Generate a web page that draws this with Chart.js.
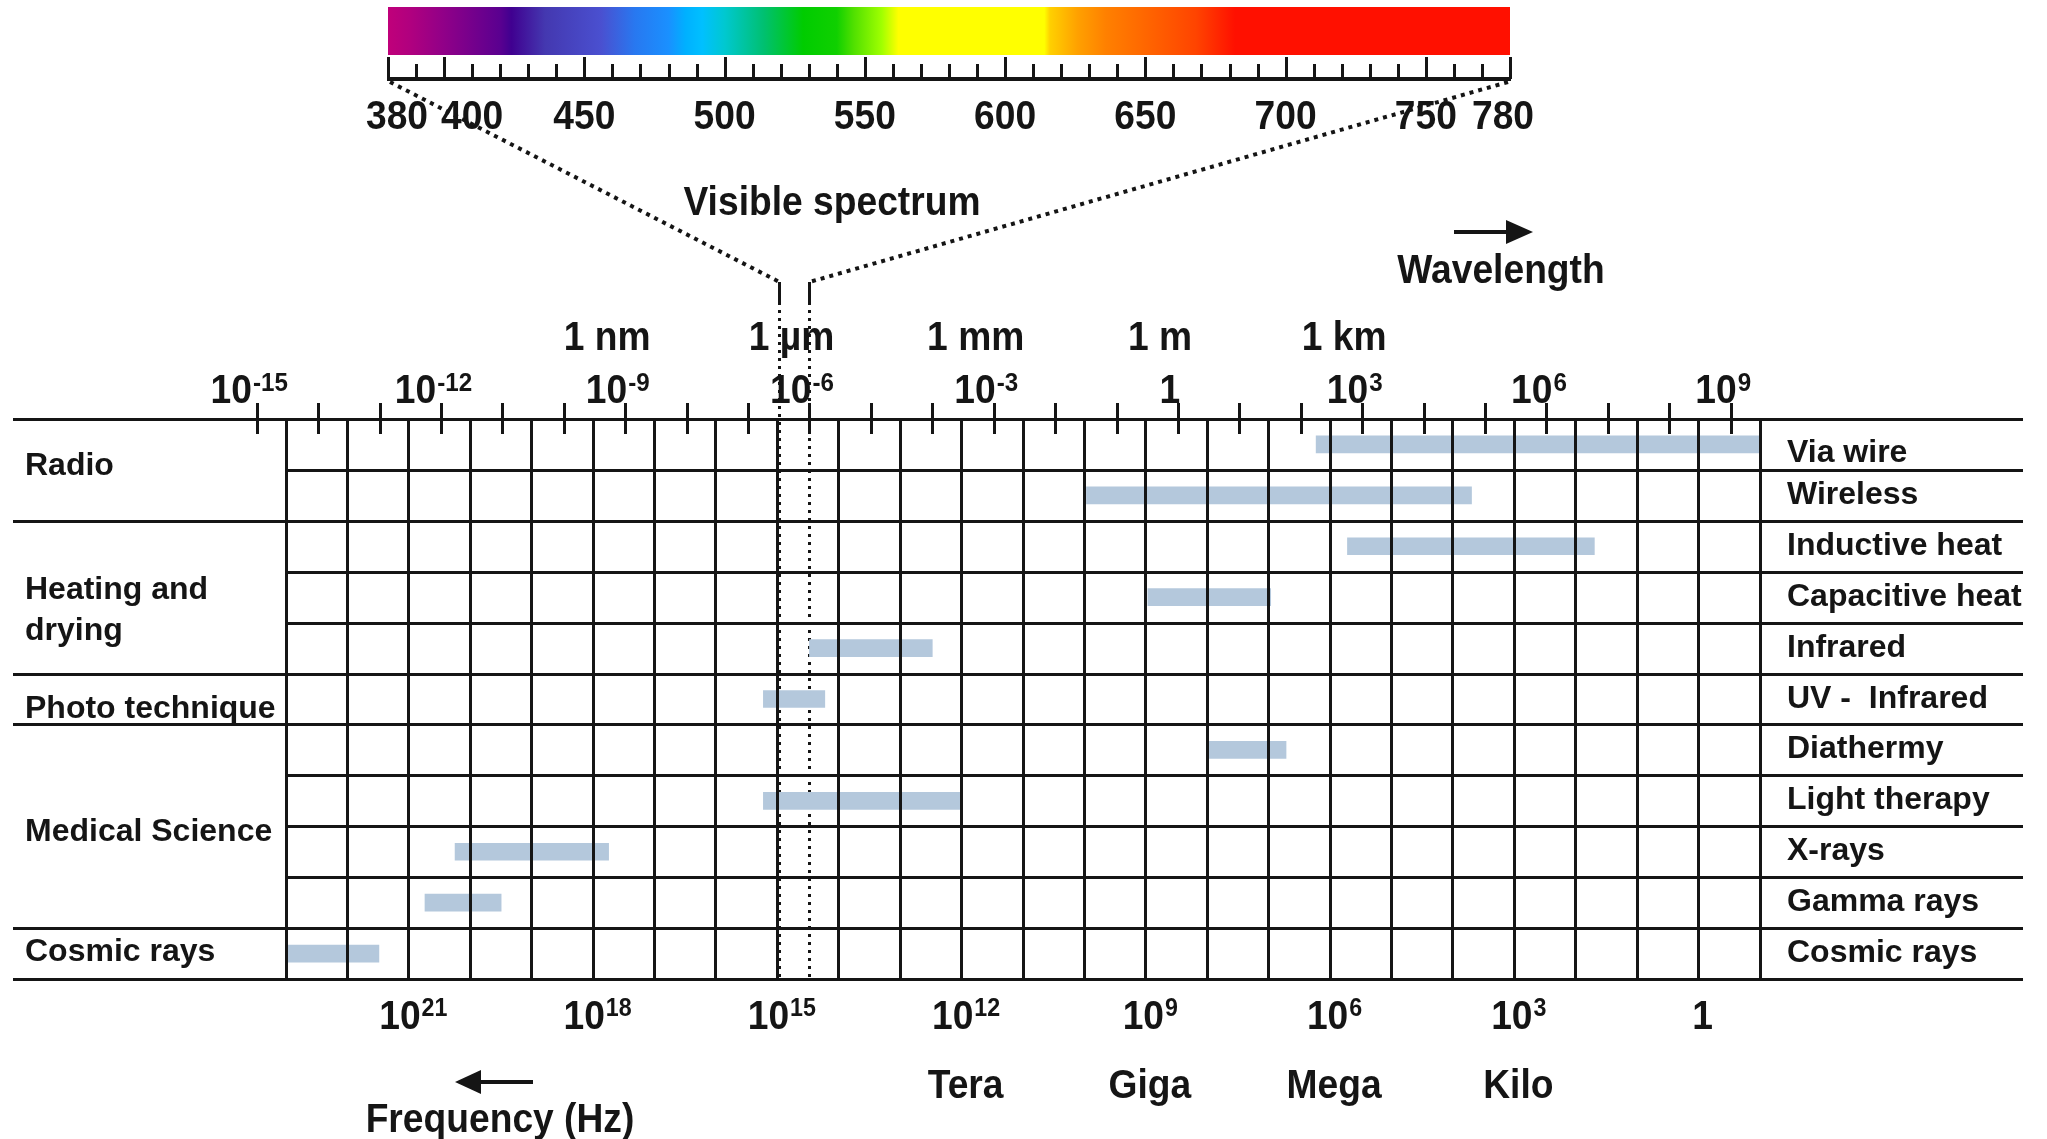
<!DOCTYPE html>
<html lang="en">
<head>
<meta charset="UTF-8">
<title>Electromagnetic spectrum - applications</title>
<style>
    html, body { margin: 0; padding: 0; background: #fff; }
    canvas { display: block; }
</style>
<script src="https://cdn.jsdelivr.net/npm/chart.js@4.4.1/dist/chart.umd.min.js"></script>
</head>
<body>
<canvas id="spectrumChart" width="2047" height="1139"></canvas>
<script>
// x values are log10 of the wavelength in metres
const rowLabels = ['Via wire', 'Wireless', 'Inductive heat', 'Capacitive heat', 'Infrared',
    'UV -  Infrared', 'Diathermy', 'Light therapy', 'X-rays', 'Gamma rays', 'Cosmic rays'];
const rangeStart = [2.25, -1.49, 2.76, -0.49, -6.0, -6.75, 0.51, -6.75, -11.77, -12.26, -14.52];
const rangeEnd   = [9.48, 4.78, 6.78, 1.51, -4.0, -5.75, 1.76, -3.52, -9.27, -11.02, -13.01];

const groupLabels = [['Radio'], ['Heating and', 'drying'], ['Photo technique'], ['Medical Science'], ['Cosmic rays']];
const groupFirst = [0, 2, 5, 6, 10];
const groupLast  = [1, 4, 5, 9, 10];

const wavelengthExps = [-15, -12, -9, -6, -3, 0, 3, 6, 9];
const unitLabels = ['1 nm', '1 \u00b5m', '1 mm', '1 m', '1 km'];
const unitExps = [-9, -6, -3, 0, 3];
const freqExps = [21, 18, 15, 12, 9, 6, 3, 0];
const prefixLabels = ['Tera', 'Giga', 'Mega', 'Kilo'];
const prefixExps = [12, 9, 6, 3];
const spectrumTicks = [380, 400, 450, 500, 550, 600, 650, 700, 750, 780];
const visibleEdges = [-6.5, -6.0];

const LOG_C = Math.log10(3e8);   // f = c / lambda
const INK = '#151515';
const FONT = '"Liberation Sans", Arial, Helvetica, sans-serif';
const SQ = 0.93;                  // condensed look of the axis lettering
const SPEC_L = 388, SPEC_R = 1510;

function sx(nm) { return SPEC_L + (nm - 380) / 400 * (SPEC_R - SPEC_L); }

function text(ctx, str, x, y, size, align, sq) {
    ctx.save();
    ctx.font = 'bold ' + size + 'px ' + FONT;
    ctx.fillStyle = INK;
    ctx.textAlign = align;
    ctx.textBaseline = 'alphabetic';
    ctx.translate(x, y);
    ctx.scale(sq, 1);
    ctx.fillText(str, 0, 0);
    ctx.restore();
}

function power(ctx, exp, cx, base, size, supSize) {
    if (exp === 0) { text(ctx, '1', cx, base, size, 'center', SQ); return; }
    ctx.font = 'bold ' + size + 'px ' + FONT;
    const w1 = ctx.measureText('10').width * SQ;
    ctx.font = 'bold ' + supSize + 'px ' + FONT;
    const w2 = ctx.measureText(String(exp)).width * SQ;
    const left = cx - (w1 + w2) / 2;
    text(ctx, '10', left, base, size, 'left', SQ);
    text(ctx, String(exp), left + w1 + 1, base - 0.716 * (size - supSize) - 2, supSize, 'left', SQ);
}

function line(ctx, x1, y1, x2, y2) {
    ctx.beginPath();
    ctx.moveTo(x1, y1);
    ctx.lineTo(x2, y2);
    ctx.stroke();
}

const spectrumStops = [
    [0, '#c0007a'], [0.02, '#b0007f'], [0.05, '#900088'], [0.10, '#5a0090'], [0.11, '#400090'],
    [0.14, '#4438b0'], [0.19, '#4a50d0'], [0.22, '#2878f0'], [0.25, '#1a90ff'], [0.265, '#00b0ff'],
    [0.28, '#00c0ff'], [0.30, '#00c8d0'], [0.335, '#00c070'], [0.37, '#00cc00'], [0.40, '#10d000'],
    [0.415, '#50e000'], [0.44, '#a0ff00'], [0.455, '#ffff00'], [0.585, '#ffff00'], [0.59, '#ffd000'],
    [0.615, '#ffa000'], [0.64, '#ff8000'], [0.67, '#ff6a00'], [0.72, '#ff4400'], [0.755, '#ff1000'],
    [1, '#ff1000']
];

const decor = {
    id: 'decor',
    beforeDatasetsDraw(chart) {
        const { ctx, chartArea, scales: { x } } = chart;
        ctx.save();
        ctx.strokeStyle = INK;
        ctx.lineWidth = 3;
        ctx.setLineDash([3, 5]);
        visibleEdges.forEach(v => {
            const px = Math.round(x.getPixelForValue(v)) + 0.5;
            line(ctx, px, 302, px, chartArea.bottom);
        });
        ctx.restore();
    },
    afterDraw(chart) {
        const { ctx, chartArea, scales: { x, y } } = chart;
        const n = rowLabels.length;
        const band = (chartArea.bottom - chartArea.top) / n;
        const edge = k => (k < n ? y.getPixelForValue(k) - band / 2 : y.getPixelForValue(n - 1) + band / 2);
        ctx.save();
        ctx.strokeStyle = INK;

        // visible spectrum strip
        const grad = ctx.createLinearGradient(SPEC_L, 0, SPEC_R, 0);
        spectrumStops.forEach(s => grad.addColorStop(s[0], s[1]));
        ctx.fillStyle = grad;
        ctx.fillRect(SPEC_L, 7, SPEC_R - SPEC_L, 48);
        ctx.lineWidth = 3;
        for (let nm = 380; nm <= 780; nm += 10) {
            const px = Math.round(sx(nm)) + 0.5;
            line(ctx, px, spectrumTicks.includes(nm) ? 57 : 64, px, 79);
        }
        ctx.lineWidth = 4;
        line(ctx, SPEC_L - 1, 79, SPEC_R + 1, 79);
        const nudge = { 380: 9, 400: 28, 780: -7 };
        spectrumTicks.forEach(nm => text(ctx, String(nm), sx(nm) + (nudge[nm] || 0), 129, 40, 'center', SQ));

        // zoom lines from the strip down to the visible band
        const vx = visibleEdges.map(v => Math.round(x.getPixelForValue(v)) + 0.5);
        ctx.setLineDash([4, 5]);
        ctx.lineWidth = 4;
        line(ctx, SPEC_L + 2, 82, vx[0], 282);
        line(ctx, SPEC_R - 2, 82, vx[1], 282);
        ctx.setLineDash([]);
        ctx.lineWidth = 3;
        line(ctx, vx[0], 282, vx[0], 302);
        line(ctx, vx[1], 282, vx[1], 302);

        text(ctx, 'Visible spectrum', 832, 215, 40, 'center', SQ);
        text(ctx, 'Wavelength', 1501, 283, 40, 'center', SQ);
        ctx.fillStyle = INK;
        ctx.lineWidth = 4;
        line(ctx, 1454, 232, 1510, 232);
        ctx.beginPath();
        ctx.moveTo(1506, 220); ctx.lineTo(1533, 232); ctx.lineTo(1506, 244);
        ctx.closePath(); ctx.fill();

        // row and group separators
        ctx.lineWidth = 3;
        const groupEdges = groupLast.map(g => g + 1);
        for (let k = 0; k <= n; k++) {
            const py = Math.round(edge(k)) + 0.5;
            const full = k === 0 || groupEdges.includes(k);
            line(ctx, full ? 13 : chartArea.left, py, 2023, py);
        }

        // wavelength ruler on top
        const top = Math.round(chartArea.top);
        for (let e = -15; e <= 9; e++) {
            const px = Math.round(x.getPixelForValue(e)) + 0.5;
            line(ctx, px, top - 16, px, top + 15);
        }
        wavelengthExps.forEach(e => power(ctx, e, x.getPixelForValue(e) - 8, 403, 40, 26));
        unitLabels.forEach((u, i) => text(ctx, u, x.getPixelForValue(unitExps[i]) - 18, 350, 40, 'center', SQ));

        // category labels
        const groupShift = [-6, 0, 7, 3, -4];
        groupLabels.forEach((lines, i) => {
            const c = (edge(groupFirst[i]) + edge(groupLast[i] + 1)) / 2 + groupShift[i];
            lines.forEach((t, j) => {
                const cy = lines.length === 1 ? c : c - 10 + j * 41;
                text(ctx, t, 25, cy + 11.5, 32, 'left', 1);
            });
        });
        rowLabels.forEach((t, i) => text(ctx, t, 1787, y.getPixelForValue(i) + (i === 0 ? 6 : -3) + 11.5, 32, 'left', 1));

        // frequency ruler at the bottom
        freqExps.forEach(e => power(ctx, e, x.getPixelForValue(LOG_C - e) + 4, 1029, 40, 25));
        prefixLabels.forEach((p, i) => text(ctx, p, x.getPixelForValue(LOG_C - prefixExps[i]) + 4, 1098, 40, 'center', SQ));
        ctx.lineWidth = 4;
        line(ctx, 476, 1082, 533, 1082);
        ctx.beginPath();
        ctx.moveTo(455, 1082); ctx.lineTo(481, 1070); ctx.lineTo(481, 1094);
        ctx.closePath(); ctx.fill();
        text(ctx, 'Frequency (Hz)', 500, 1132, 40, 'center', SQ);
        ctx.restore();
    }
};

new Chart(document.getElementById('spectrumChart'), {
    type: 'bar',
    data: {
        labels: rowLabels,
        datasets: [{
            data: rangeStart.map((s, i) => [s, rangeEnd[i]]),
            backgroundColor: '#b4c8dc',
            borderWidth: 0,
            barThickness: 17
        }]
    },
    options: {
        indexAxis: 'y',
        responsive: false,
        animation: false,
        devicePixelRatio: 1,
        layout: { padding: { left: 286, right: 287, top: 419, bottom: 160 } },
        plugins: { legend: { display: false }, tooltip: { enabled: false } },
        scales: {
            x: {
                type: 'linear',
                min: LOG_C - 23,
                max: LOG_C + 1,
                afterBuildTicks: (scale) => {
                    const t = [];
                    for (let e = 23; e >= -1; e--) t.push({ value: LOG_C - e });
                    scale.ticks = t;
                },
                ticks: { display: false },
                grid: { color: INK, lineWidth: 3, drawTicks: false, z: 1 },
                border: { display: false }
            },
            y: { type: 'category', display: false }
        }
    },
    plugins: [decor]
});
</script>
</body>
</html>
